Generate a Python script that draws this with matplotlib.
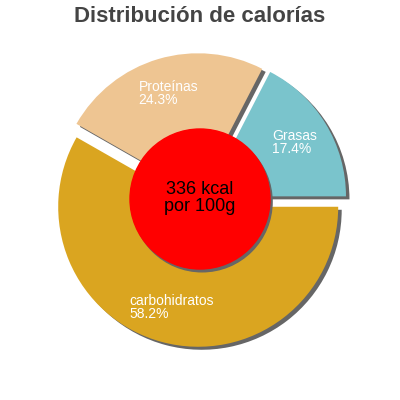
import matplotlib
matplotlib.use("Agg")
import matplotlib.pyplot as plt
import numpy as np
from matplotlib.patches import Circle

plt.rcParams['font.family'] = ['Liberation Sans', 'DejaVu Sans']

title = "Distribución de calorías"
categories = ["Grasas", "Proteínas", "carbohidratos"]
percents = [17.4, 24.3, 58.2]
colors = ["#7ac4cc", "#eec592", "#daa520"]
center_text = "336 kcal\npor 100g"

fig = plt.figure(figsize=(4, 4), dpi=100)
ax = fig.add_axes([0, 0, 1, 1])
ax.set_xlim(0, 400)
ax.set_ylim(0, 400)
ax.set_aspect('equal')
ax.axis('off')

cx, cy, R = 200, 200, 140
explode = [7] * len(percents)  # pie explode is in data units here
shadow_off = (3.5, -3)

# shadow
ax.pie(percents, center=(cx + shadow_off[0], cy + shadow_off[1]), radius=R,
       startangle=0, counterclock=True, explode=explode,
       colors=["#666666"] * len(percents), frame=True,
       wedgeprops=dict(linewidth=0))
ax.pie(percents, center=(cx, cy), radius=R, startangle=0, counterclock=True,
       explode=explode, colors=colors, frame=True,
       wedgeprops=dict(linewidth=0))

ax.add_patch(Circle((cx + shadow_off[0] * 0.6, cy + shadow_off[1] * 0.6), 70,
                    color="#666666", zorder=5))
ax.add_patch(Circle((cx, cy + 1), 70, color="#ff0000", zorder=6))
ax.text(cx, cy + 2, center_text, ha='center', va='center', fontsize=13,
        color='black', zorder=7, linespacing=1.0)

# labels
total = sum(percents)
ang = 0.0
for cat, p in zip(categories, percents):
    mid = np.deg2rad(ang + 360 * p / total / 2)
    r = 111
    ax.text(cx + r * np.cos(mid), cy + r * np.sin(mid), f"{cat}\n{p}%",
            ha='center', va='center', multialignment='left', fontsize=10,
            color='white', zorder=4, linespacing=0.95)
    ang += 360 * p / total

ax.set_xlim(0, 400)
ax.set_ylim(0, 400)
fig.text(0.5, 1 - 16 / 400, title, ha='center', va='center', fontsize=16,
         fontweight='bold', color='#444444')

fig.savefig("out.png", dpi=100)
